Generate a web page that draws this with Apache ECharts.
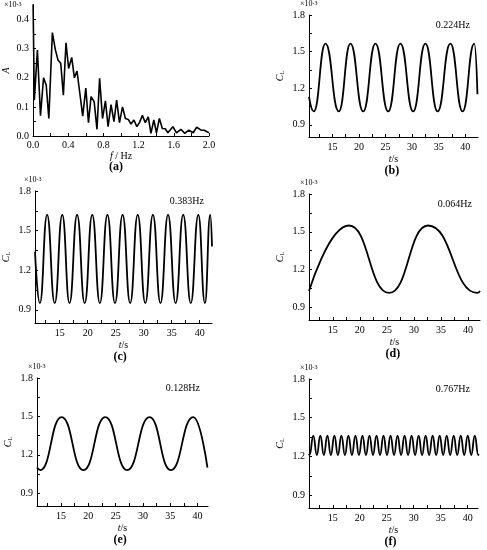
<!DOCTYPE html>
<html><head><meta charset="utf-8">
<script src="https://cdn.jsdelivr.net/npm/echarts@6/dist/echarts.min.js"></script>
<style>html,body{margin:0;padding:0;background:#fff}#c{width:487px;height:550px}</style>
</head><body><div id="c"></div>
<script>
// Panel (a): amplitude spectrum
const aFreq = [0,0.015,0.05,0.085,0.12,0.15,0.18,0.22,0.255,0.285,0.315,0.345,0.375,0.405,0.44,0.47,0.5,0.53,0.565,0.6,0.63,0.66,0.695,0.727,0.757,0.79,0.823,0.853,0.887,0.92,0.95,0.983,1.017,1.05,1.083,1.113,1.147,1.18,1.21,1.243,1.276,1.31,1.34,1.373,1.403,1.436,1.47,1.503,1.532,1.59,1.63,1.68,1.725,1.77,1.82,1.86,1.91,1.945,2.0];
const aAmp = [0.48,0.123,0.295,0.07,0.2,0.175,0.06,0.355,0.295,0.26,0.25,0.14,0.32,0.232,0.27,0.2,0.223,0.152,0.068,0.165,0.046,0.135,0.118,0.023,0.198,0.06,0.121,0.032,0.108,0.049,0.123,0.046,0.1,0.06,0.057,0.041,0.055,0.032,0.046,0.071,0.046,0.066,0.009,0.055,0.011,0.06,0.026,0.025,0.011,0.032,0.011,0.023,0.009,0.02,0.011,0.03,0.02,0.02,0.011];
const aXTicks = [0,0.4,0.8,1.2,1.6,2.0];
const aYTicks = [0,0.1,0.2,0.3,0.4];
// Lift coefficient panels: extrema
const tTicks = [15,20,25,30,35,40];
const clTicks = [0.9,1.2,1.5,1.8];
const bPeaks = [13.7,18.4,23.1,27.8,32.5,37.2,41.7], bTroughs = [11.5,16.2,20.8,25.5,30.2,34.8,39.5];
const bLevels = [1.565,1.01], bEnds = [[10.6,1.13],[42.3,1.15]];
const cPeaks = [12.76,15.47,18.12,20.82,23.53,26.24,28.94,31.65,34.35,37.06,39.76,41.88], cTroughs = [11.47,14.12,16.76,19.47,22.18,24.88,27.59,30.29,33.0,35.71,38.41,40.94];
const cLevels = [1.62,0.95], cEnds = [[10.6,1.34],[42.2,1.38]];
const dPeaks = [18.0,32.6], dTroughs = [25.4,41.7];
const dLevels = [1.55,1.015], dEnds = [[10.6,1.03],[42.2,1.03]];
const ePeaks = [15.1,23.1,31.2,39.2], eTroughs = [11.2,19.1,27.1,35.1];
const eLevels = [1.495,1.08], eEnds = [[10.6,1.10],[41.8,1.10]];
const fPeaks = [11.4,12.7,14.0,15.3,16.6,17.9,19.2,20.5,21.8,23.1,24.4,25.7,27.0,28.3,29.6,30.9,32.2,33.5,34.8,36.1,37.4,38.7,40.0,41.3];
const fTroughs = [10.7,12.05,13.35,14.65,15.95,17.25,18.55,19.85,21.15,22.45,23.75,25.05,26.35,27.65,28.95,30.25,31.55,32.85,34.15,35.45,36.75,38.05,39.35,40.65,41.95];
const fLevels = [1.36,1.21], fEnds = [[10.6,1.22],[42.0,1.22]];
const freqLabels = ['0.224Hz','0.383Hz','0.064Hz','0.128Hz','0.767Hz'];

function build(peaks, troughs, lv, ends){
  const pts = [ends[0]];
  peaks.forEach(t=>pts.push([t,lv[0]])); troughs.forEach(t=>pts.push([t,lv[1]]));
  pts.sort((a,b)=>a[0]-b[0]);
  const out = pts.filter((p,i)=>i===0 || p[0]>pts[0][0]);
  out.push(ends[1]); return out;
}
const F = '"Liberation Serif", "DejaVu Serif", serif';
const panels = [
  {l:309,w:169,t:15,h:122, d:build(bPeaks,bTroughs,bLevels,bEnds), x:[10.6,42.4], f:freqLabels[0], lab:'(b)'},
  {l:33,w:179,t:191,h:132, d:build(cPeaks,cTroughs,cLevels,cEnds), x:[10.6,42.2], f:freqLabels[1], lab:'(c)'},
  {l:309,w:171,t:194,h:126, d:build(dPeaks,dTroughs,dLevels,dEnds), x:[10.6,42.2], f:freqLabels[2], lab:'(d)'},
  {l:37,w:171,t:378,h:128, d:build(ePeaks,eTroughs,eLevels,eEnds), x:[10.6,41.9], f:freqLabels[3], lab:'(e)'},
  {l:309,w:169,t:379,h:129, d:build(fPeaks,fTroughs,fLevels,fEnds), x:[10.6,41.9], f:freqLabels[4], lab:'(f)'}
];
const axLine = {lineStyle:{color:'#000',width:1}};
const grid=[{left:29,top:5,width:180,height:131}], xAxis=[], yAxis=[], series=[], graphic=[];
xAxis.push({gridIndex:0,type:'value',min:0,max:2,axisLine:axLine,axisTick:{inside:true,length:3,lineStyle:{color:'#000'},customValues:[0,0.2,0.4,0.6,0.8,1,1.2,1.4,1.6,1.8,2]},
  axisLabel:{color:'#000',fontFamily:F,fontSize:10,margin:4,customValues:aXTicks,formatter:v=>v.toFixed(1)},splitLine:{show:false},
  name:'{i|f} / Hz',nameLocation:'middle',nameGap:14,
  nameTextStyle:{fontFamily:F,fontSize:10,color:'#000',rich:{i:{fontStyle:'italic',fontFamily:F,fontSize:10}}}});
yAxis.push({gridIndex:0,type:'value',min:0,max:0.45,axisLine:{show:true,...axLine},axisTick:{show:true,inside:true,length:3,lineStyle:{color:'#000'},customValues:[0,0.05,0.1,0.15,0.2,0.25,0.3,0.35,0.4]},
  axisLabel:{color:'#000',fontFamily:F,fontSize:10,margin:4,customValues:aYTicks,formatter:v=>v.toFixed(1)},splitLine:{show:false},
  name:'A',nameLocation:'middle',nameGap:22,nameRotate:90,
  nameTextStyle:{fontFamily:F,fontSize:10,fontStyle:'italic',color:'#000'}});
series.push({type:'line',xAxisIndex:0,yAxisIndex:0,data:aFreq.map((f,i)=>[f,aAmp[i]]),showSymbol:false,lineStyle:{color:'#000',width:1.6},clip:true});
graphic.push({type:'text',left:4,top:1,style:{text:'×10{s|-3}',font:'8px '+F,fill:'#000',rich:{s:{fontSize:6,verticalAlign:'top',fontFamily:F}}}});
graphic.push({type:'text',left:109,top:161,style:{text:'(a)',font:'bold 12px '+F,fill:'#000'}});
panels.forEach((p,k)=>{
  const i=k+1;
  grid.push({left:p.l,top:p.t,width:p.w,height:p.h});
  xAxis.push({gridIndex:i,type:'value',min:p.x[0],max:p.x[1],axisLine:axLine,
    axisTick:{inside:true,length:3,lineStyle:{color:'#000'},customValues:[12.5,15,17.5,20,22.5,25,27.5,30,32.5,35,37.5,40]},
    axisLabel:{color:'#000',fontFamily:F,fontSize:10,margin:5,customValues:tTicks},splitLine:{show:false},
    name:'{i|t}/s',nameLocation:'middle',nameGap:17,nameTextStyle:{fontFamily:F,fontSize:10,color:'#000',rich:{i:{fontStyle:'italic',fontFamily:F,fontSize:10}}}});
  yAxis.push({gridIndex:i,type:'value',min:0.8,max:1.8,axisLine:{show:true,...axLine},
    axisTick:{show:true,inside:true,length:3,lineStyle:{color:'#000'},customValues:[0.9,1.05,1.2,1.35,1.5,1.65,1.8]},
    axisLabel:{color:'#000',fontFamily:F,fontSize:10,margin:4,customValues:clTicks,formatter:v=>v.toFixed(1)},splitLine:{show:false},
    name:'{i|C}{s|L}',nameLocation:'middle',nameGap:24,nameRotate:90,
    nameTextStyle:{color:'#000',rich:{i:{fontStyle:'italic',fontFamily:F,fontSize:10},s:{fontFamily:F,fontSize:6,verticalAlign:'bottom'}}}});
  series.push({type:'line',xAxisIndex:i,yAxisIndex:i,data:p.d,showSymbol:false,smooth:0.5,smoothMonotone:'x',lineStyle:{color:'#000',width:1.8}});
  graphic.push({type:'text',left:p.l-9,top:p.t-15,style:{text:'×10{s|-3}',font:'8px '+F,fill:'#000',rich:{s:{fontSize:6,verticalAlign:'top',fontFamily:F}}}});
  graphic.push({type:'text',right:487-(p.l+p.w)+8,top:p.t+5,style:{text:p.f,font:'10px '+F,fill:'#000'}});
  graphic.push({type:'text',left:p.l+p.w/2-9,top:p.t+p.h+28,style:{text:p.lab,font:'bold 12px '+F,fill:'#000'}});
});
const ch = echarts.init(document.getElementById('c'));
ch.setOption({animation:false,backgroundColor:'#fff',grid,xAxis,yAxis,series,graphic});
</script></body></html>
